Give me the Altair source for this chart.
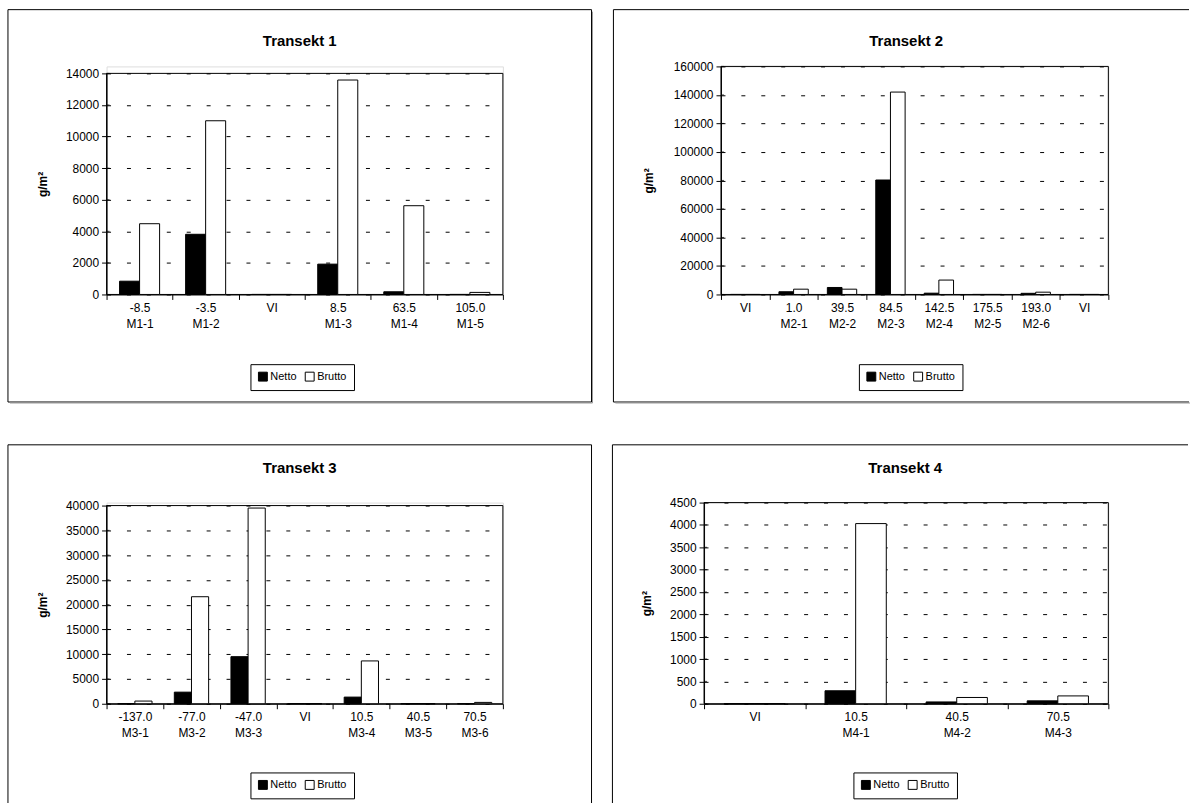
import altair as alt
import pandas as pd

FONT = "Liberation Sans"
SERIES = ["Netto", "Brutto"]

# ---- data ----
t1_cats = ["-8.5|M1-1", "-3.5|M1-2", "VI", "8.5|M1-3", "63.5|M1-4", "105.0|M1-5"]
t1_netto = [840, 3810, 0, 1920, 170, 0]
t1_brutto = [4480, 11000, 0, 13580, 5620, 130]

t2_cats = ["VI", "1.0|M2-1", "39.5|M2-2", "84.5|M2-3", "142.5|M2-4", "175.5|M2-5", "193.0|M2-6", "VI "]
t2_netto = [0, 1900, 4900, 80300, 900, 0, 800, 0]
t2_brutto = [0, 3700, 3700, 142000, 10100, 0, 1600, 0]

t3_cats = ["-137.0|M3-1", "-77.0|M3-2", "-47.0|M3-3", "VI", "10.5|M3-4", "40.5|M3-5", "70.5|M3-6"]
t3_netto = [0, 2340, 9500, 0, 1340, 0, 0]
t3_brutto = [540, 21600, 39500, 0, 8640, 0, 270]

t4_cats = ["VI", "10.5|M4-1", "40.5|M4-2", "70.5|M4-3"]
t4_netto = [0, 290, 40, 65]
t4_brutto = [0, 4030, 140, 175]

ONE = alt.Data(values=[{}])
LABEL_SIZE = 12


def hrule(x1, x2, y, color="black"):
    return alt.Chart(ONE).mark_rule(color=color, strokeWidth=1).encode(
        x=alt.value(x1), x2=alt.value(x2), y=alt.value(y))


def vrule(x, y1, y2, color="black"):
    return alt.Chart(ONE).mark_rule(color=color, strokeWidth=1).encode(
        x=alt.value(x), y=alt.value(y1), y2=alt.value(y2))


def panel(title, cats, netto, brutto, ymax, ystep, W, H, ytop, box, sides,
          shadow, title_pos, legend_pos, ytitle_x):
    rows = []
    for c, n, b in zip(cats, netto, brutto):
        rows.append({"cat": c, "Serie": "Netto", "v": n})
        rows.append({"cat": c, "Serie": "Brutto", "v": b})
    df = pd.DataFrame(rows)
    tick_vals = list(range(0, ymax + 1, ystep))

    bl, bt, br, bb = box
    deco = []
    if "top" in sides:
        deco.append(hrule(bl, br, bt))
    if "left" in sides:
        deco.append(vrule(bl, bt, bb))
    if "right" in sides:
        deco.append(vrule(br, bt, bb))
    if "bottom" in sides:
        deco.append(hrule(bl, br, bb))
    if "bottom" in shadow:
        deco.append(hrule(bl + 2, br + 1, bb + 1, "#9a9a9a"))
    if "right" in shadow:
        deco.append(vrule(br + 1, bt + 2, bb + 1, "#9a9a9a"))

    border = alt.Chart(ONE).mark_rect(fill="transparent", stroke="black", strokeWidth=1).encode(
        x=alt.value(0), x2=alt.value(W), y=alt.value(ytop), y2=alt.value(H))

    yscale = alt.Scale(domain=[0, ymax], nice=False, range=[H, ytop])
    yaxis = alt.Axis(title="g/m²", values=tick_vals,
                     format="d", titleX=ytitle_x, titleY=(H + ytop) / 2,
                     titleAngle=270, titleAlign="center", titleBaseline="middle",
                     titleFontWeight="bold", titleFontSize=12, tickSize=5,
                     labelPadding=3, grid=True, gridDash=[4, 16],
                     gridColor="black", gridOpacity=1, gridWidth=1)

    bars = alt.Chart(df).mark_bar(stroke="black", strokeWidth=1).encode(
        x=alt.X("cat:N", sort=cats,
                scale=alt.Scale(domain=cats, paddingInner=0, paddingOuter=0),
                axis=alt.Axis(title=None, labelExpr="split(datum.label, '|')",
                              tickBand="extent", labelAngle=0, labelPadding=3,
                              labelLineHeight=16, tickSize=5, grid=False)),
        xOffset=alt.XOffset("Serie:N", sort=SERIES,
                            scale=alt.Scale(domain=SERIES, paddingInner=0, paddingOuter=0.65)),
        y=alt.Y("v:Q", scale=yscale, axis=yaxis),
        color=alt.Color("Serie:N", sort=SERIES, title=None,
                        scale=alt.Scale(domain=SERIES, range=["black", "white"]),
                        legend=alt.Legend(orient="none", legendX=legend_pos[0],
                                          legendY=legend_pos[1], direction="horizontal",
                                          strokeColor="black", fillColor="white",
                                          padding=7, symbolType="square", symbolSize=80,
                                          symbolStrokeColor="black", symbolStrokeWidth=1,
                                          labelFont=FONT, labelFontSize=11,
                                          labelColor="black", labelOffset=2, columnPadding=6)),
    )

    # inward half of the cross-style tick marks on the value axis
    inward = alt.Chart(pd.DataFrame({"v": tick_vals})).mark_tick(
        color="black", thickness=1, size=3, orient="horizontal").encode(
        y=alt.Y("v:Q", scale=yscale, axis=yaxis), x=alt.value(1.5))

    ttl = alt.Chart(ONE).mark_text(text=title, font=FONT, fontSize=15, fontWeight="bold",
                                   align="center", baseline="middle", color="black").encode(
        x=alt.value(title_pos[0]), y=alt.value(title_pos[1]))

    return alt.layer(*deco, border, bars, inward, ttl).properties(width=W, height=H)


p1 = panel("Transekt 1", t1_cats, t1_netto, t1_brutto, 14000, 2000,
           W=398, H=229, ytop=7, box=(-99, -57, 487, 337),
           sides=("top", "left", "right", "bottom"), shadow=("bottom", "right"),
           title_pos=(194, -26), legend_pos=(144.5, 299), ytitle_x=-64)
p2 = panel("Transekt 2", t2_cats, t2_netto, t2_brutto, 160000, 20000,
           W=389, H=229, ytop=0, box=(-108, -57, 470, 337),
           sides=("top", "left", "bottom"), shadow=("bottom",),
           title_pos=(186, -26), legend_pos=(138.5, 299), ytitle_x=-73)
p3 = panel("Transekt 3", t3_cats, t3_netto, t3_brutto, 40000, 5000,
           W=398, H=202, ytop=3, box=(-99, -58, 487, 303),
           sides=("top", "left", "right"), shadow=(),
           title_pos=(194, -35), legend_pos=(144.5, 271), ytitle_x=-64)
p4 = panel("Transekt 4", t4_cats, t4_netto, t4_brutto, 4500, 500,
           W=406, H=202, ytop=0, box=(-92, -58, 486, 303),
           sides=("top", "left"), shadow=(),
           title_pos=(202, -35), legend_pos=(150, 271), ytitle_x=-58)

row1 = alt.hconcat(p1, p2, spacing=19).resolve_scale(
    color="independent", xOffset="independent").resolve_legend(color="independent")
row2 = alt.hconcat(p3, p4, spacing=19).resolve_scale(
    color="independent", xOffset="independent").resolve_legend(color="independent")

chart = alt.vconcat(row1, row2, spacing=40).resolve_scale(
    color="independent", xOffset="independent").resolve_legend(color="independent").properties(
    padding={"left": 7, "top": 7, "right": 0, "bottom": 0},
    background="white",
).configure_view(stroke=None).configure(font=FONT).configure_axis(
    labelFont=FONT, labelFontSize=LABEL_SIZE, labelColor="black", domainColor="black",
    tickColor="black", titleFont=FONT, titleColor="black", domainWidth=1, tickWidth=1)

chart.save("out.html", embed_options={"renderer": "svg", "actions": False})
